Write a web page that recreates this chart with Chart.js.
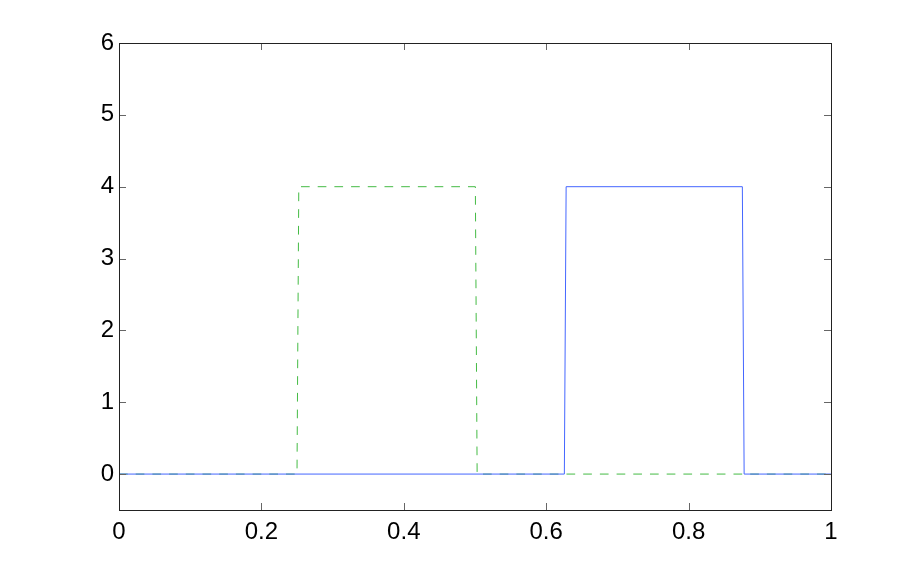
<!DOCTYPE html>
<html>
<head>
<meta charset="utf-8">
<script src="https://cdn.jsdelivr.net/npm/chart.js@4"></script>
<style>
  html, body { margin: 0; padding: 0; background: #fff; }
  #wrap { width: 918px; height: 574px; }
</style>
</head>
<body>
<div id="wrap"><canvas id="plot"></canvas></div>
<script>
// === DATA ===
const xTicks = [0, 0.2, 0.4, 0.6, 0.8, 1];
const yTicks = [0, 1, 2, 3, 4, 5, 6];

// dashed green pulse
const greenX = [0, 0.25, 0.2525, 0.5005, 0.503, 1];
const greenY = [0, 0, 4, 4, 0, 0];

// solid blue pulse
const blueX = [0, 0.6255, 0.628, 0.8755, 0.878, 1];
const blueY = [0, 0, 4, 4, 0, 0];

const pts = (xs, ys) => xs.map((x, i) => ({ x: x, y: ys[i] }));

// frame + inward ticks (matlab style box)
const boxPlugin = {
  id: 'box',
  afterDraw(chart) {
    const { ctx, chartArea: a, scales } = chart;
    const len = 7;
    ctx.save();
    ctx.strokeStyle = '#666';
    ctx.lineWidth = 1;
    ctx.beginPath();
    xTicks.forEach(v => {
      const px = Math.round(scales.x.getPixelForValue(v)) + 0.5;
      ctx.moveTo(px, a.bottom); ctx.lineTo(px, a.bottom - len);
      ctx.moveTo(px, a.top); ctx.lineTo(px, a.top + len);
    });
    yTicks.forEach(v => {
      const py = Math.round(scales.y.getPixelForValue(v)) + 0.5;
      ctx.moveTo(a.left, py); ctx.lineTo(a.left + len, py);
      ctx.moveTo(a.right, py); ctx.lineTo(a.right - len, py);
    });
    ctx.stroke();
    ctx.strokeStyle = '#222';
    ctx.strokeRect(Math.round(a.left) + 0.5, Math.round(a.top) + 0.5,
                   Math.round(a.right - a.left), Math.round(a.bottom - a.top));
    ctx.restore();
  }
};

const tickFont = { family: '"Liberation Sans", Arial, sans-serif', size: 24 };

new Chart(document.getElementById('plot'), {
  type: 'line',
  data: {
    datasets: [
      {
        data: pts(blueX, blueY),
        borderColor: '#4466ff',
        borderWidth: 1,
        pointRadius: 0,
        tension: 0
      },
      {
        data: pts(greenX, greenY),
        borderColor: '#44bb44',
        borderWidth: 1,
        borderDash: [8.7, 8],
        pointRadius: 0,
        tension: 0
      }
    ]
  },
  options: {
    responsive: true,
    maintainAspectRatio: false,
    animation: false,
    events: [],
    layout: { padding: { left: 0, top: 43, right: 87, bottom: 0 } },
    plugins: { legend: { display: false }, tooltip: { enabled: false } },
    scales: {
      x: {
        type: 'linear',
        min: 0, max: 1,
        border: { display: false },
        grid: { display: false, drawTicks: false },
        ticks: { color: '#000', font: tickFont, padding: 8, maxRotation: 0,
                 callback: v => String(v) },
        afterBuildTicks: s => { s.ticks = xTicks.map(v => ({ value: v })); },
        afterFit: s => { s.height = 64; }
      },
      y: {
        type: 'linear',
        min: -0.5, max: 6,
        border: { display: false },
        grid: { display: false, drawTicks: false },
        ticks: { color: '#000', font: tickFont, padding: 5,
                 callback: v => String(v) },
        afterBuildTicks: s => { s.ticks = yTicks.map(v => ({ value: v })); },
        afterFit: s => { s.width = 119; }
      }
    }
  },
  plugins: [boxPlugin]
});
</script>
</body>
</html>
